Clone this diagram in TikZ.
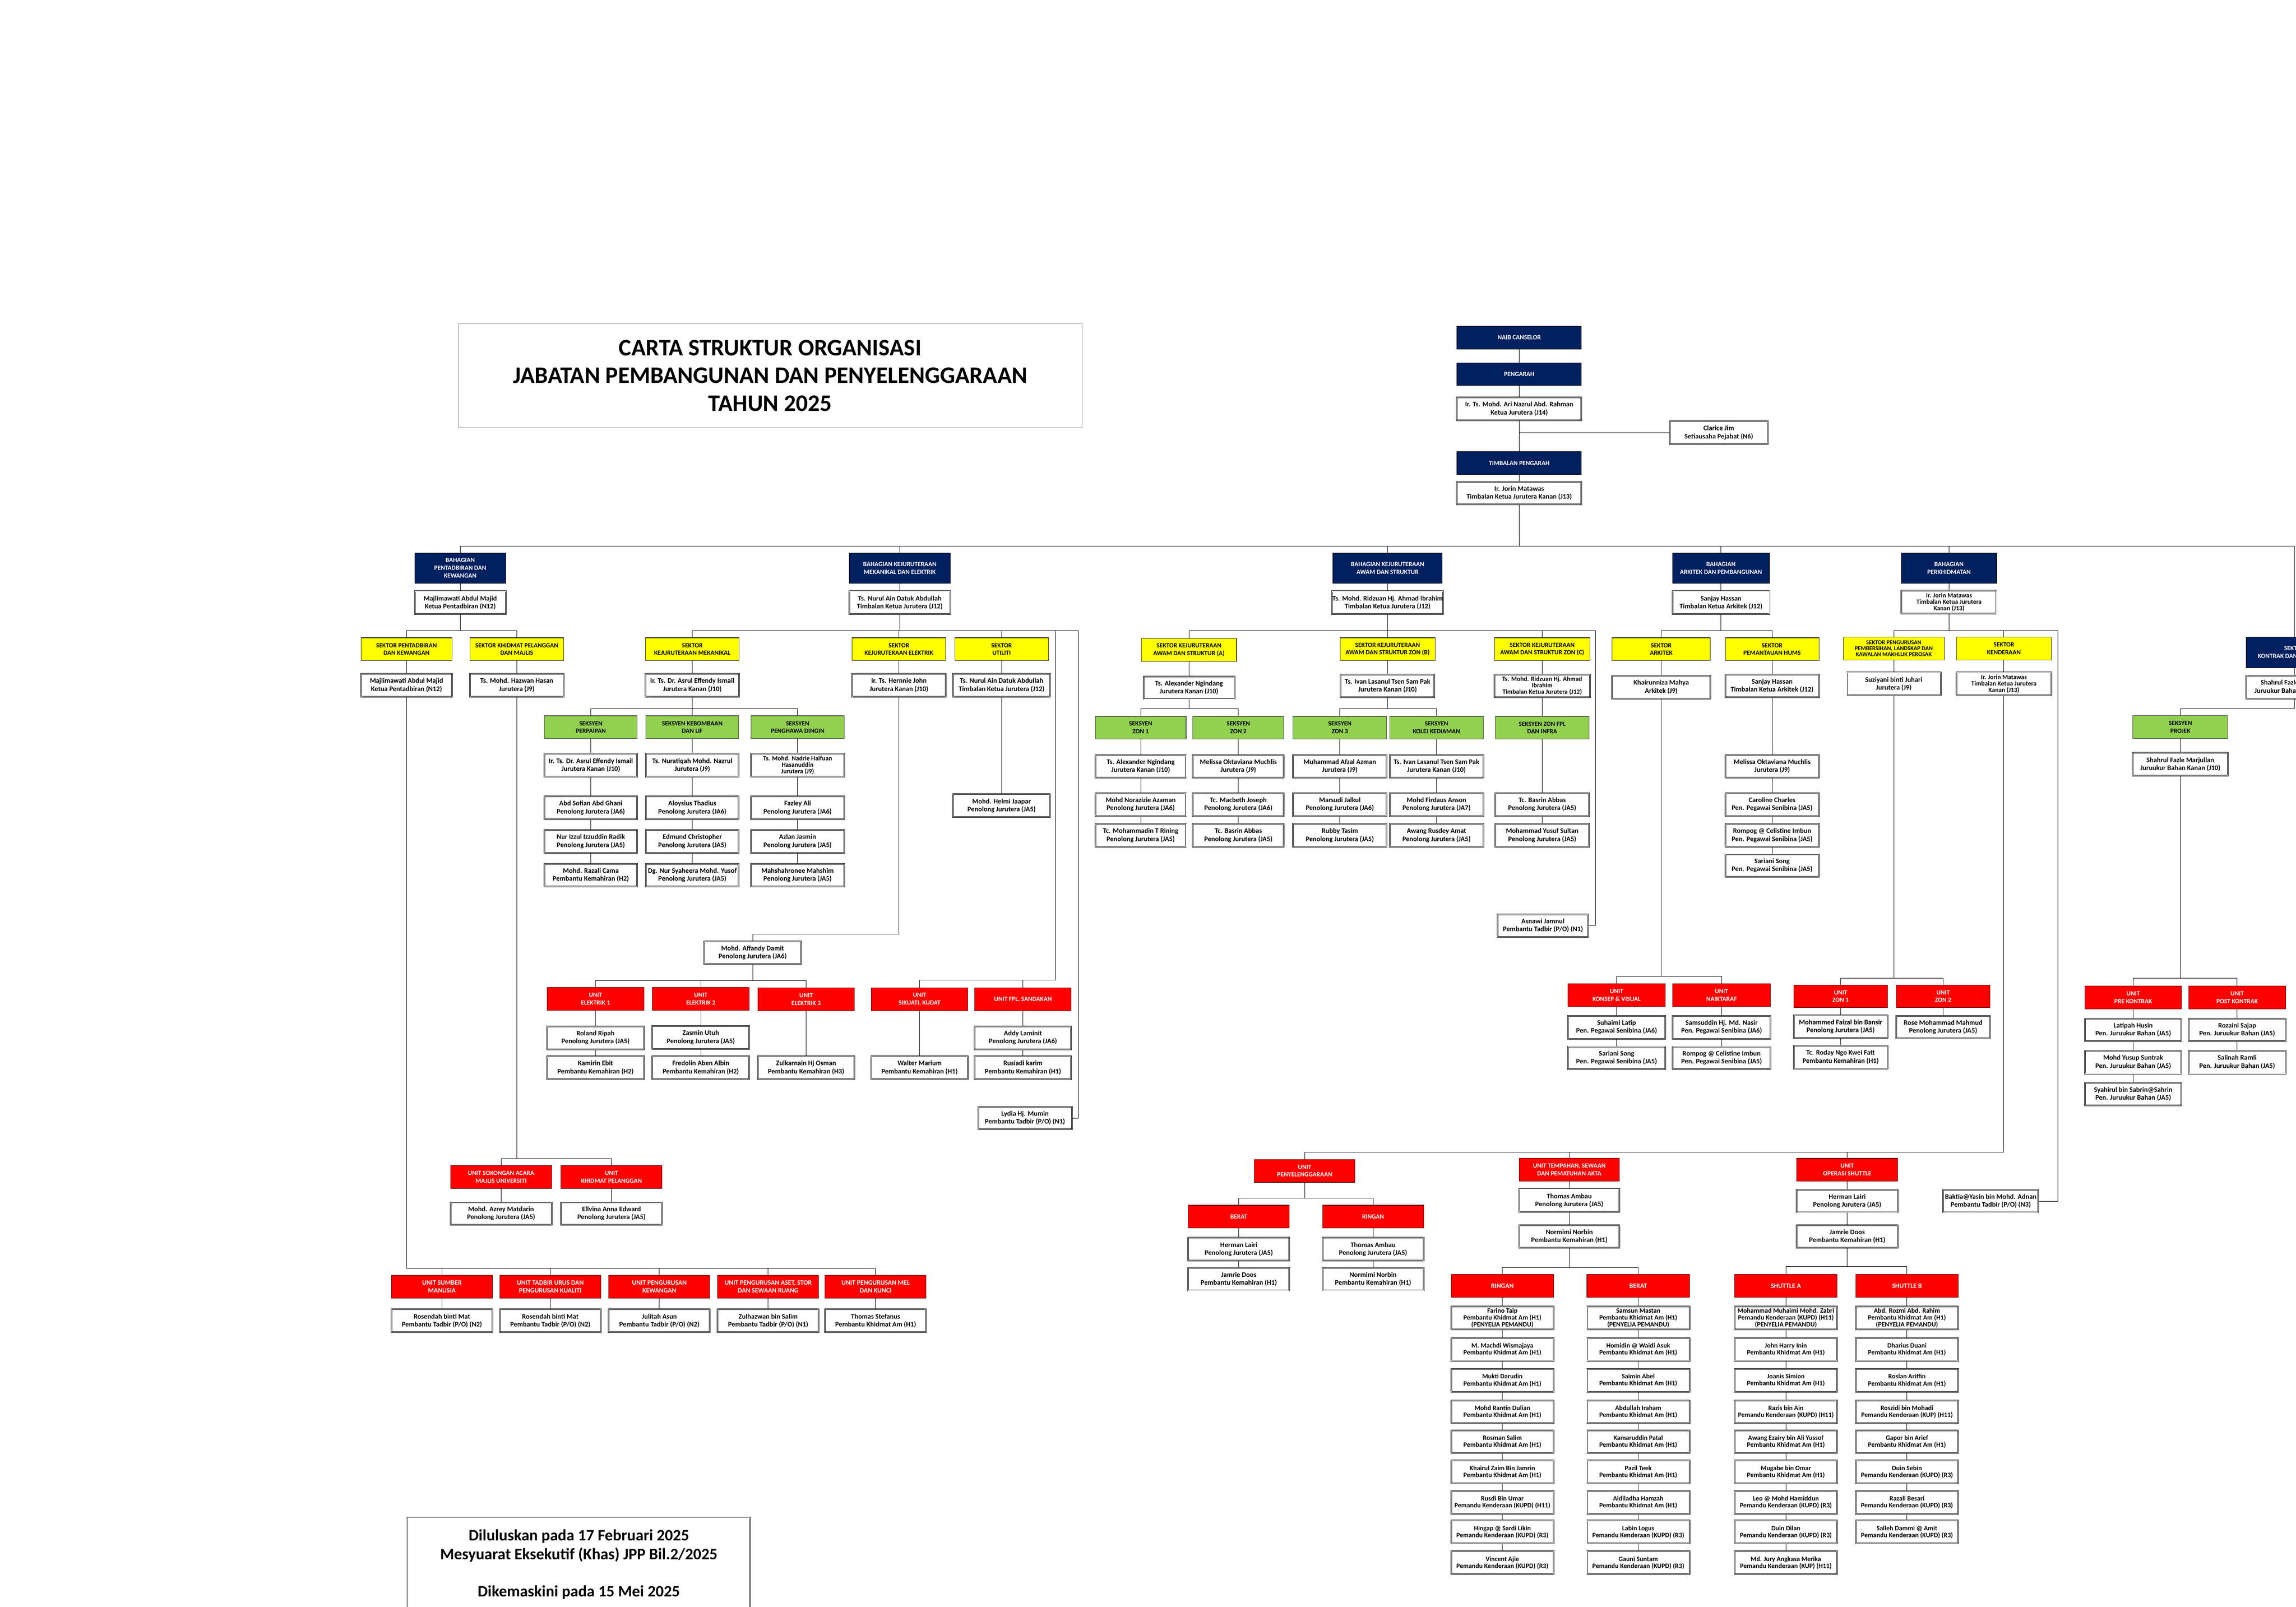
\documentclass[tikz,border=0pt]{standalone}
\usepackage{fontspec}
\setmainfont{Carlito}
\definecolor{navyc}{HTML}{002060}
\definecolor{greenc}{HTML}{92D050}
\definecolor{redc}{HTML}{FF0000}
\definecolor{yelc}{HTML}{FFFF00}
\tikzset{
 bx/.style={align=center,inner sep=0.3mm,minimum height=15.6mm,font=\bfseries\fontsize{13.5}{15.5}\selectfont},
 wbox/.style={bx,draw=black,double,double distance=0.35mm,line width=0.3mm,fill=white},
 nbox/.style={bx,draw=black,line width=0.35mm,fill=navyc,text=white,font=\bfseries\fontsize{12.5}{15}\selectfont},
 ybox/.style={bx,draw=black!80,line width=0.35mm,fill=yelc,font=\bfseries\fontsize{12.5}{15}\selectfont},
 gbox/.style={bx,draw=black!70,line width=0.35mm,fill=greenc,font=\bfseries\fontsize{12.5}{15}\selectfont},
 rbox/.style={bx,draw=black!60!red,line width=0.35mm,fill=redc,text=white,font=\bfseries\fontsize{12.5}{15}\selectfont},
 lbox/.style={wbox,font=\bfseries\fontsize{13.5}{15.5}\selectfont},
 lrbox/.style={rbox,font=\bfseries\fontsize{13}{15}\selectfont},
 three/.style={font=\bfseries\fontsize{12.5}{12.5}\selectfont},
 con/.style={draw=black,line width=0.3mm}
}
\newcommand\Wn[4][64]{\node[wbox,minimum width=#1mm] (#2) at (#3) {#4};}
\newcommand\Nv[4][64]{\node[nbox,minimum width=#1mm] (#2) at (#3) {#4};}
\newcommand\Ye[4][64]{\node[ybox,minimum width=#1mm] (#2) at (#3) {#4};}
\newcommand\Gr[4][64]{\node[gbox,minimum width=#1mm] (#2) at (#3) {#4};}
\newcommand\Rd[4][66]{\node[rbox,minimum width=#1mm] (#2) at (#3) {#4};}
\newcommand\Wl[4][70]{\node[lbox,minimum width=#1mm] (#2) at (#3) {#4};}
\newcommand\Rl[4][70]{\node[lrbox,minimum width=#1mm] (#2) at (#3) {#4};}
\newcommand\tree[3]{\coordinate (tb) at (0,#2);\foreach \kid in {#3}{\draw[con] (#1.south) -- (#1.south |- tb) -| (\kid.north);}}
\newcommand\chain[1]{\foreach \pp/\qq in {#1}{\draw[con] (\pp.south) -- (\qq.north);}}
\newcommand\pka{Pembantu Khidmat Am (H1)}
\newcommand\pkd{Pemandu Kenderaan (KUPD) (R3)}
\newcommand\pj{Penolong Jurutera}
\begin{document}
\begin{tikzpicture}[x=1mm,y=-1mm]
\useasboundingbox (0,0) rectangle (1568,1097.3);
\clip (0,0) rectangle (1568,1097.3);
% title
\draw[black!45,line width=0.3mm] (313,221) rectangle (739,292);
\node[align=center,font=\bfseries\fontsize{46}{54}\selectfont] (title) at (526,256.5) {CARTA STRUKTUR ORGANISASI\\JABATAN PEMBANGUNAN DAN PENYELENGGARAAN\\TAHUN 2025};
% footer
\draw[black,double,double distance=0.5mm,line width=0.25mm] (278.4,1036.7) rectangle (512.2,1105);
\node[align=center,font=\bfseries\fontsize{31}{37}\selectfont] (foot1) at (395.3,1055.8) {Diluluskan pada 17 Februari 2025\\Mesyuarat Eksekutif (Khas) JPP Bil.2/2025};
\node[font=\bfseries\fontsize{31}{37}\selectfont] (foot2) at (395.3,1087.6) {Dikemaskini pada 15 Mei 2025};
% top column
\Nv[85]{naib}{1037.5,230.6}{NAIB CANSELOR}
\Nv[85]{peng}{1037.5,255.6}{PENGARAH}
\Wn[85]{ari}{1037.5,279.2}{Ir. Ts. Mohd. Ari Nazrul Abd. Rahman\\Ketua Jurutera (J14)}
\Wn[67]{clar}{1173.8,295.6}{Clarice Jim\\Setiausaha Pejabat (N6)}
\Nv[85]{timb}{1037.5,316.3}{TIMBALAN PENGARAH}
\Wn[85]{jor}{1037.5,336.8}{Ir. Jorin Matawas\\Timbalan Ketua Jurutera Kanan (J13)}
\chain{naib/peng,peng/ari,ari/timb,timb/jor}
\draw[con] (clar.west) -- (clar.west -| ari.south);
% bahagian
\node[nbox,minimum width=62mm,minimum height=20.8mm] (b1) at (314.3,388) {BAHAGIAN\\PENTADBIRAN DAN\\KEWANGAN};
\node[nbox,minimum width=69mm,minimum height=20.8mm] (b2) at (614.5,388) {BAHAGIAN KEJURUTERAAN\\MEKANIKAL DAN ELEKTRIK};
\node[nbox,minimum width=74.6mm,minimum height=20.8mm] (b3) at (947.6,388) {BAHAGIAN KEJURUTERAAN\\AWAM DAN STRUKTUR};
\node[nbox,minimum width=66mm,minimum height=20.8mm] (b4) at (1175.3,388) {BAHAGIAN\\ARKITEK DAN PEMBANGUNAN};
\node[nbox,minimum width=65mm,minimum height=20.8mm] (b5) at (1331,388) {BAHAGIAN\\PERKHIDMATAN};
\node[nbox,minimum width=66mm,minimum height=21mm] (kon) at (1567,445.5) {SEKTOR\\KONTRAK DAN PEROLEHAN};
\tree{jor}{373}{b1,b2,b3,b4,b5,kon}
% heads
\Wn[62]{h1}{314.3,411.7}{Majlimawati Abdul Majid\\Ketua Pentadbiran (N12)}
\Wn[69]{h2}{614.5,411.7}{Ts. Nurul Ain Datuk Abdullah\\Timbalan Ketua Jurutera (J12)}
\Wn[74.6]{h3}{947.6,411.7}{Ts. Mohd. Ridzuan Hj. Ahmad Ibrahim\\Timbalan Ketua Jurutera (J12)}
\Wn[66]{h4}{1175.3,411.7}{Sanjay Hassan\\Timbalan Ketua Arkitek (J12)}
\node[wbox,three,minimum width=65mm] (h5) at (1331,411.2) {Ir. Jorin Matawas\\Timbalan Ketua Jurutera\\Kanan (J13)};
\Wn[66]{hk}{1567,469.2}{Shahrul Fazle Marjullan\\Juruukur Bahan Kanan (J10)}
\chain{b1/h1,b2/h2,b3/h3,b4/h4,b5/h5,kon/hk}
% sectors
\Ye[62]{s11}{277.6,443.4}{SEKTOR PENTADBIRAN\\DAN KEWANGAN}
\Ye[64]{s12}{352.9,443.4}{SEKTOR KHIDMAT PELANGGAN\\DAN MAJLIS}
\Ye[64]{s21}{472.8,443.4}{SEKTOR\\KEJURUTERAAN MEKANIKAL}
\Ye[64]{s22}{613.9,443.4}{SEKTOR\\KEJURUTERAAN ELEKTRIK}
\Ye[64]{s23}{684,443.4}{SEKTOR\\UTILITI}
\Ye[65]{s31}{812,443.8}{SEKTOR KEJURUTERAAN\\AWAM DAN STRUKTUR (A)}
\Ye[65]{s32}{947.6,443.4}{SEKTOR KEJURUTERAAN\\AWAM DAN STRUKTUR ZON (B)}
\Ye[65]{s33}{1053.2,443.4}{SEKTOR KEJURUTERAAN\\AWAM DAN STRUKTUR ZON (C)}
\Ye[67]{s41}{1134.5,443.4}{SEKTOR\\ARKITEK}
\Ye[64]{s42}{1210.2,443.4}{SEKTOR\\PEMANTAUAN HUMS}
\node[ybox,minimum width=69mm,font=\bfseries\fontsize{11.5}{11.5}\selectfont] (s51) at (1293.3,442.9) {SEKTOR PENGURUSAN\\PEMBERSIHAN, LANDSKAP DAN\\KAWALAN MAKHLUK PEROSAK};
\Ye[65]{s52}{1368.5,442.9}{SEKTOR\\KENDERAAN}
\tree{h1}{430.8}{s11,s12}
\tree{h2}{430.8}{s21,s22,s23}
\tree{h3}{430.8}{s31,s32,s33}
\tree{h4}{430.8}{s41,s42}
\tree{h5}{430.8}{s51,s52}
% sector names
\Wn[62]{n11}{277.6,468}{Majlimawati Abdul Majid\\Ketua Pentadbiran (N12)}
\Wn[64]{n12}{352.9,468}{Ts. Mohd. Hazwan Hasan\\Jurutera (J9)}
\Wn[64]{n21}{472.8,468}{Ir. Ts. Dr. Asrul Effendy Ismail\\Jurutera Kanan (J10)}
\Wn[64]{n22}{613.9,468}{Ir. Ts. Hernnie John\\Jurutera Kanan (J10)}
\Wn[66]{n23}{684,468}{Ts. Nurul Ain Datuk Abdullah\\Timbalan Ketua Jurutera (J12)}
\Wn[62]{n31}{812,469.8}{Ts. Alexander Ngindang\\Jurutera Kanan (J10)}
\Wn[64]{n32}{947.6,468.5}{Ts. Ivan Lasanul Tsen Sam Pak\\Jurutera Kanan (J10)}
\node[wbox,three,minimum width=65mm] (n33) at (1053.2,468.5) {Ts. Mohd. Ridzuan Hj. Ahmad\\Ibrahim\\Timbalan Ketua Jurutera (J12)};
\Wn[67]{n41}{1134.5,469.3}{Khairunniza Mahya\\Arkitek (J9)}
\Wn[64]{n42}{1210.2,468.5}{Sanjay Hassan\\Timbalan Ketua Arkitek (J12)}
\Wn[64]{n51}{1293.3,467.2}{Suziyani binti Juhari\\Jurutera (J9)}
\node[wbox,three,minimum width=65mm] (n52) at (1368.5,467.2) {Ir. Jorin Matawas\\Timbalan Ketua Jurutera\\Kanan (J13)};
\chain{s11/n11,s12/n12,s21/n21,s22/n22,s23/n23,s31/n31,s32/n32,s33/n33,s41/n41,s42/n42,s51/n51,s52/n52}
% extra bus lines B2, B3, B5
\coordinate (k3) at (736.6,430.8);
\Wn[64]{lyd}{700,763.6}{Lydia Hj. Mumin\\Pembantu Tadbir (P/O) (N1)}
\draw[con] (s23.north |- k3) -- (k3) |- (lyd.east);
\coordinate (k4) at (1089.5,430.8);
\Wn[62]{asn}{1053.7,632.2}{Asnawi Jamnul\\Pembantu Tadbir (P/O) (N1)}
\draw[con] (s33.north |- k4) -- (k4) |- (asn.east);
\coordinate (k5) at (1405.5,430.8);
\Wn[65]{bak}{1359.5,820.4}{Baktia@Yasin bin Mohd. Adnan\\Pembantu Tadbir (P/O) (N3)}
\draw[con] (s52.north |- k5) -- (k5) |- (bak.east);
% Mekanikal seksyen
\Gr[63.5]{g211}{403.5,496.7}{SEKSYEN\\PERPAIPAN}
\Gr[63.5]{g212}{472.8,496.7}{SEKSYEN KEBOMBAAN\\DAN LIF}
\Gr[63.5]{g213}{544.7,496.7}{SEKSYEN\\PENGHAWA DINGIN}
\tree{n21}{484}{g211,g212,g213}
\Wn[63.5]{m11}{403.5,522.7}{Ir. Ts. Dr. Asrul Effendy Ismail\\Jurutera Kanan (J10)}
\Wn[63.5]{m12}{403.5,551.8}{Abd Sofian Abd Ghani\\\pj{} (JA6)}
\Wn[63.5]{m13}{403.5,574.6}{Nur Izzul Izzuddin Radik\\\pj{} (JA5)}
\Wn[63.5]{m14}{403.5,597.7}{Mohd. Razali Cama\\Pembantu Kemahiran (H2)}
\Wn[63.5]{m21}{472.8,522.7}{Ts. Nuratiqah Mohd. Nazrul\\Jurutera (J9)}
\Wn[63.5]{m22}{472.8,551.8}{Aloysius Thadius\\\pj{} (JA6)}
\Wn[63.5]{m23}{472.8,574.6}{Edmund Christopher\\\pj{} (JA5)}
\Wn[63.5]{m24}{472.8,597.7}{Dg. Nur Syaheera Mohd. Yusof\\\pj{} (JA5)}
\node[wbox,three,minimum width=63.5mm] (m31) at (544.7,522.7) {Ts. Mohd. Nadrie Haifuan\\Hasanuddin\\Jurutera (J9)};
\Wn[63.5]{m32}{544.7,551.8}{Fazley Ali\\\pj{} (JA6)}
\Wn[63.5]{m33}{544.7,574.6}{Azlan Jasmin\\\pj{} (JA5)}
\Wn[63.5]{m34}{544.7,597.7}{Mahshahronee Mahshim\\\pj{} (JA5)}
\chain{g211/m11,m11/m12,m12/m13,m13/m14,g212/m21,m21/m22,m22/m23,m23/m24,g213/m31,m31/m32,m32/m33,m33/m34}
% Utiliti
\Wn[66]{hel}{684,550.3}{Mohd. Helmi Jaapar\\\pj{} (JA5)}
\chain{n23/hel}
% Elektrik
\Wn[66]{aff}{514,650.7}{Mohd. Affandy Damit\\\pj{} (JA6)}
\coordinate (ke) at (0,638);
\draw[con] (n22.south) -- (n22.south |- ke) -| (aff.north);
\Rd{e1}{406.7,682.3}{UNIT\\ELEKTRIK 1}
\Rd{e2}{478.6,682.3}{UNIT\\ELEKTRIK 2}
\Rd{e3}{550.5,682.6}{UNIT\\ELEKTRIK 3}
\tree{aff}{669.6}{e1,e2,e3}
\Wn[66]{e11}{406.7,708.8}{Roland Ripah\\\pj{} (JA5)}
\Wn[66]{e12}{406.7,729.2}{Kamirin Ebit\\Pembantu Kemahiran (H2)}
\Wn[66]{e21}{478.6,708.6}{Zasmin Utuh\\\pj{} (JA5)}
\Wn[66]{e22}{478.6,729.2}{Fredolin Aben Albin\\Pembantu Kemahiran (H2)}
\Wn[66]{e31}{550.5,729.2}{Zulkarnain Hj Osman\\Pembantu Kemahiran (H3)}
\chain{e1/e11,e11/e12,e2/e21,e21/e22,e3/e31}
\Rd{sik}{628,682.5}{UNIT\\SIKUATI, KUDAT}
\Rd{fpl}{698.6,682.5}{UNIT FPL, SANDAKAN}
\coordinate (k1) at (720.8,430.8);
\coordinate (k2) at (720.8,669.4);
\draw[con] (k1) -- (k2) -| (sik.north);
\draw[con] (k2) -| (fpl.north);
\Wn[66]{wal}{628,729.2}{Walter Marium\\Pembantu Kemahiran (H1)}
\Wn[66]{add}{698.6,708.8}{Addy Laminit\\\pj{} (JA6)}
\Wn[66]{rus}{698.6,729.2}{Rusiadi karim\\Pembantu Kemahiran (H1)}
\chain{sik/wal,fpl/add,add/rus}
% Awam
\Gr[62]{g311}{779,497}{SEKSYEN\\ZON 1}
\Gr[62]{g312}{845.7,497}{SEKSYEN\\ZON 2}
\tree{n31}{484}{g311,g312}
\Gr[64]{g321}{915,497}{SEKSYEN\\ZON 3}
\Gr[64]{g322}{981,497}{SEKSYEN\\KOLEJ KEDIAMAN}
\tree{n32}{484}{g321,g322}
\Gr[64]{g331}{1053.2,497}{SEKSYEN ZON FPL\\DAN INFRA}
\Wn[62]{a11}{779,523.4}{Ts. Alexander Ngindang\\Jurutera Kanan (J10)}
\Wn[62]{a12}{779,549.5}{Mohd Norazizie Azaman\\\pj{} (JA6)}
\Wn[62]{a13}{779,570.6}{Tc. Mohammadin T Rining\\\pj{} (JA5)}
\Wn[62]{a21}{845.7,523.4}{Melissa Oktaviana Muchlis\\Jurutera (J9)}
\Wn[62]{a22}{845.7,549.5}{Tc. Macbeth Joseph\\\pj{} (JA6)}
\Wn[62]{a23}{845.7,570.6}{Tc. Basrin Abbas\\\pj{} (JA5)}
\Wn[64]{a31}{915,523.4}{Muhammad Afzal Azman\\Jurutera (J9)}
\Wn[64]{a32}{915,549.5}{Marsudi Jalkul\\\pj{} (JA6)}
\Wn[64]{a33}{915,570.6}{Rubby Tasim\\\pj{} (JA5)}
\Wn[64]{a41}{981,523.4}{Ts. Ivan Lasanul Tsen Sam Pak\\Jurutera Kanan (J10)}
\Wn[64]{a42}{981,549.5}{Mohd Firdaus Anson\\\pj{} (JA7)}
\Wn[64]{a43}{981,570.6}{Awang Rusdey Amat\\\pj{} (JA5)}
\Wn[64]{c1}{1053.2,549.5}{Tc. Basrin Abbas\\\pj{} (JA5)}
\Wn[64]{c2}{1053.2,570.6}{Mohammad Yusuf Sultan\\\pj{} (JA5)}
\chain{g311/a11,a11/a12,a12/a13,g312/a21,a21/a22,a22/a23,g321/a31,a31/a32,a32/a33,g322/a41,a41/a42,a42/a43,n33/g331,g331/c1,c1/c2}
% Arkitek
\Rd[66.6]{uk1}{1104,679.7}{UNIT\\KONSEP \& VISUAL}
\Rd[66.6]{uk2}{1175.7,679.7}{UNIT\\NAIKTARAF}
\tree{n41}{666.9}{uk1,uk2}
\Wn[66.6]{k11}{1104,701.6}{Suhaimi Latip\\Pen. Pegawai Senibina (JA6)}
\Wn[66.6]{k12}{1104,722.5}{Sariani Song\\Pen. Pegawai Senibina (JA5)}
\Wn[66.6]{k21}{1175.7,701.6}{Samsuddin Hj. Md. Nasir\\Pen. Pegawai Senibina (JA6)}
\Wn[66.6]{k22}{1175.7,722.5}{Rompog @ Celistine Imbun\\Pen. Pegawai Senibina (JA5)}
\chain{uk1/k11,k11/k12,uk2/k21,k21/k22}
% HUMS
\Wn[64]{hu1}{1210.2,523.4}{Melissa Oktaviana Muchlis\\Jurutera (J9)}
\Wn[64]{hu2}{1210.2,549.5}{Caroline Charles\\Pen. Pegawai Senibina (JA5)}
\Wn[64]{hu3}{1210.2,570.6}{Rompog @ Celistine Imbun\\Pen. Pegawai Senibina (JA5)}
\Wn[64]{hu4}{1210.2,591.1}{Sariani Song\\Pen. Pegawai Senibina (JA5)}
\chain{n42/hu1,hu1/hu2,hu2/hu3,hu3/hu4}
% Pembersihan
\Rd[64]{zo1}{1257,680.5}{UNIT\\ZON 1}
\Rd[64]{zo2}{1327,680.5}{UNIT\\ZON 2}
\tree{n51}{668}{zo1,zo2}
\Wn[64]{fai}{1257,701.2}{Mohammed Faizal bin Bansir\\\pj{} (JA5)}
\Wn[64]{rod}{1257,722}{Tc. Roday Ngo Kwei Fatt\\Pembantu Kemahiran (H1)}
\Wn[64]{ros}{1327,701.5}{Rose Mohammad Mahmud\\\pj{} (JA5)}
\chain{zo1/fai,fai/rod,zo2/ros}
% Kenderaan
\Rd[68.6]{pen}{891,799.7}{UNIT\\PENYELENGGARAAN}
\Rd[68.6]{tem}{1071.7,798.9}{UNIT TEMPAHAN, SEWAAN\\DAN PEMATUHAN AKTA}
\Rd[69]{ops}{1261.5,799}{UNIT\\OPERASI SHUTTLE}
\tree{n52}{787.1}{pen,tem,ops}
\Rd[69]{ber}{846,831}{BERAT}
\Rd[69]{rin}{937.7,831}{RINGAN}
\tree{pen}{818.4}{ber,rin}
\Wn[69]{pe1}{846,853.2}{Herman Lairi\\\pj{} (JA5)}
\Wn[69]{pe2}{846,873.7}{Jamrie Doos\\Pembantu Kemahiran (H1)}
\Wn[69]{pr1}{937.7,853.2}{Thomas Ambau\\\pj{} (JA5)}
\Wn[69]{pr2}{937.7,873.7}{Normimi Norbin\\Pembantu Kemahiran (H1)}
\chain{ber/pe1,pe1/pe2,rin/pr1,pr1/pr2}
\Wn[68.6]{te1}{1071.7,820}{Thomas Ambau\\\pj{} (JA5)}
\Wn[68.6]{te2}{1071.7,844.5}{Normimi Norbin\\Pembantu Kemahiran (H1)}
\Wn[69]{op1}{1261.5,820.4}{Herman Lairi\\\pj{} (JA5)}
\Wn[69]{op2}{1261.5,844.5}{Jamrie Doos\\Pembantu Kemahiran (H1)}
\chain{tem/te1,te1/te2,ops/op1,op1/op2}
\Rl{tr}{1026,878.3}{RINGAN}
\Rl{tbr}{1118.8,878.3}{BERAT}
\tree{te2}{865.7}{tr,tbr}
\Rl{sa}{1219.6,878.3}{SHUTTLE A}
\Rl{sb}{1302.3,878.3}{SHUTTLE B}
\tree{op2}{865}{sa,sb}
% lists
\def\rowy{{900.2,921.7,942.8,964.3,984.7,1005.3,1026.2,1046.4,1067.4}}
\tikzset{lst/.style={lbox,minimum width=70mm,font=\bfseries\fontsize{13}{13.5}\selectfont}}
\foreach [count=\i] \t in {{Farino Taip\\\pka\\(PENYELIA PEMANDU)},{M. Machdi Wismajaya\\\pka},{Mukti Darudin\\\pka},{Mohd Rantin Dulian\\\pka},{Rosman Salim\\\pka},{Khairul Zaim Bin Jamrin\\\pka},{Rusdi Bin Umar\\Pemandu Kenderaan (KUPD) (H11)},{Hingap @ Sardi Likin\\\pkd},{Vincent Ajie\\\pkd}}
 {\pgfmathsetmacro\yy{\rowy[\i-1]}\node[lst] (ri\i) at (1026,\yy) {\t};}
\foreach [count=\i] \t in {{Samsun Mastan\\\pka\\(PENYELIA PEMANDU)},{Homidin @ Waidi Asuk\\\pka},{Saimin Abel\\\pka},{Abdullah Iraham\\\pka},{Kamaruddin Patal\\\pka},{Pazil Teek\\\pka},{Aidiladha Hamzah\\\pka},{Labin Logus\\\pkd},{Gauni Suntam\\\pkd}}
 {\pgfmathsetmacro\yy{\rowy[\i-1]}\node[lst] (be\i) at (1118.8,\yy) {\t};}
\foreach [count=\i] \t in {{Mohammad Muhaimi Mohd. Zabri\\Pemandu Kenderaan (KUPD) (H11)\\(PENYELIA PEMANDU)},{John Harry Inin\\\pka},{Joanis Simion\\\pka},{Razis bin Ain\\Pemandu Kenderaan (KUPD) (H11)},{Awang Ezairy bin Ali Yussof\\\pka},{Mugabe bin Omar\\\pka},{Leo @ Mohd Hamiddun\\\pkd},{Duin Dilan\\\pkd},{Md. Jury Angkasa Merika\\Pemandu Kenderaan (KUP) (H11)}}
 {\pgfmathsetmacro\yy{\rowy[\i-1]}\node[lst] (sa\i) at (1219.6,\yy) {\t};}
\foreach [count=\i] \t in {{Abd. Rozmi Abd. Rahim\\\pka\\(PENYELIA PEMANDU)},{Dharius Duani\\\pka},{Roslan Ariffin\\\pka},{Roszidi bin Mohadi\\Pemandu Kenderaan (KUP) (H11)},{Gapor bin Arief\\\pka},{Duin Sebin\\\pkd},{Razali Besari\\\pkd},{Salleh Dammi @ Amit\\\pkd}}
 {\pgfmathsetmacro\yy{\rowy[\i-1]}\node[lst] (sb\i) at (1302.3,\yy) {\t};}
\chain{tr/ri1,ri1/ri2,ri2/ri3,ri3/ri4,ri4/ri5,ri5/ri6,ri6/ri7,ri7/ri8,ri8/ri9}
\chain{tbr/be1,be1/be2,be2/be3,be3/be4,be4/be5,be5/be6,be6/be7,be7/be8,be8/be9}
\chain{sa/sa1,sa1/sa2,sa2/sa3,sa3/sa4,sa4/sa5,sa5/sa6,sa6/sa7,sa7/sa8,sa8/sa9}
\chain{sb/sb1,sb1/sb2,sb2/sb3,sb3/sb4,sb4/sb5,sb5/sb6,sb6/sb7,sb7/sb8}
% Kontrak
\Gr[65]{gk}{1489,496.5}{SEKSYEN\\PROJEK}
\tree{hk}{483.9}{gk}
\Wn[65]{sh2}{1489,522}{Shahrul Fazle Marjullan\\Juruukur Bahan Kanan (J10)}
\chain{gk/sh2}
\Rd{pre}{1456.8,681.2}{UNIT\\PRE KONTRAK}
\Rd{post}{1527.8,681.2}{UNIT\\POST KONTRAK}
\tree{sh2}{668}{pre,post}
\Wn[66]{pk1}{1456.8,703.4}{Latipah Husin\\Pen. Juruukur Bahan (JA5)}
\Wn[66]{pk2}{1456.8,725.4}{Mohd Yusup Suntrak\\Pen. Juruukur Bahan (JA5)}
\Wn[66]{pk3}{1456.8,747.3}{Syahirul bin Sabrin@Sahrin\\Pen. Juruukur Bahan (JA5)}
\Wn[66]{po1}{1527.8,703.4}{Rozaini Sajap\\Pen. Juruukur Bahan (JA5)}
\Wn[66]{po2}{1527.8,725.4}{Salinah Ramli\\Pen. Juruukur Bahan (JA5)}
\chain{pre/pk1,pk1/pk2,pk2/pk3,post/po1,po1/po2}
% B1 lower
\Rl[69]{u1}{301.8,878.9}{UNIT SUMBER\\MANUSIA}
\Rl[69]{u2}{375.8,878.9}{UNIT TADBIR URUS DAN\\PENGURUSAN KUALITI}
\Rl[69]{u3}{450.3,878.9}{UNIT PENGURUSAN\\KEWANGAN}
\Rl[69]{u4}{524.6,878.9}{UNIT PENGURUSAN ASET, STOR\\DAN SEWAAN RUANG}
\Rl[69]{u5}{598,878.9}{UNIT PENGURUSAN MEL\\DAN KUNCI}
\tree{n11}{866.3}{u1,u2,u3,u4,u5}
\Wl[69]{v1}{301.8,902.1}{Rosendah binti Mat\\Pembantu Tadbir (P/O) (N2)}
\Wl[69]{v2}{375.8,902.1}{Rosendah binti Mat\\Pembantu Tadbir (P/O) (N2)}
\Wl[69]{v3}{450.3,902.1}{Julitah Asun\\Pembantu Tadbir (P/O) (N2)}
\Wl[69]{v4}{524.6,902.1}{Zulhazwan bin Salim\\Pembantu Tadbir (P/O) (N1)}
\Wl[69]{v5}{598,902.1}{Thomas Stefanus\\Pembantu Khidmat Am (H1)}
\chain{u1/v1,u2/v2,u3/v3,u4/v4,u5/v5}
\Rd[69]{us1}{342.2,804}{UNIT SOKONGAN ACARA\\MAJLIS UNIVERSITI}
\Rd[69]{us2}{417.6,804}{UNIT\\KHIDMAT PELANGGAN}
\tree{n12}{791.3}{us1,us2}
\Wn[69]{az}{342.2,828.8}{Mohd. Azrey Matdarin\\\pj{} (JA5)}
\Wn[69]{ell}{417.6,828.8}{Ellvina Anna Edward\\\pj{} (JA5)}
\chain{us1/az,us2/ell}
\end{tikzpicture}
\end{document}
